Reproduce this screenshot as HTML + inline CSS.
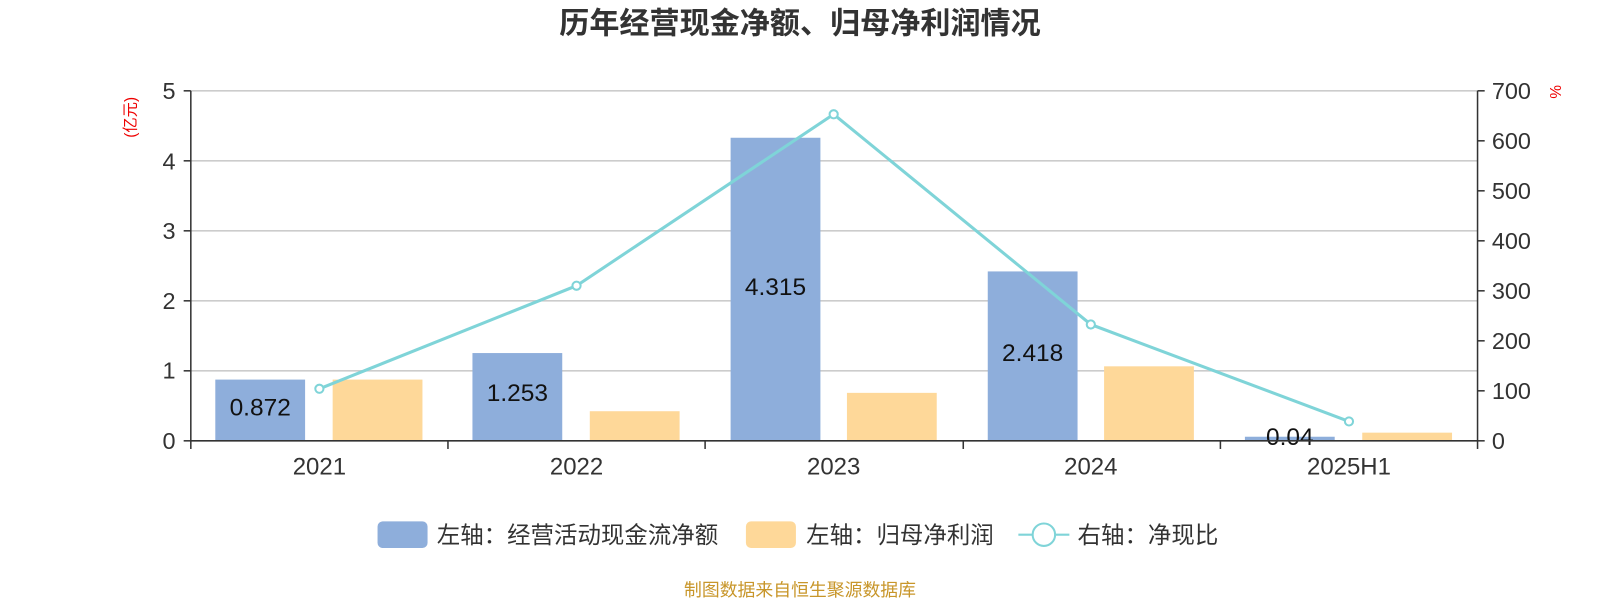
<!DOCTYPE html>
<html><head><meta charset="utf-8"><style>
body{margin:0;background:#fff;}
svg{display:block;font-family:"Liberation Sans","Noto Sans CJK SC",sans-serif;}
</style></head><body>
<svg width="1600" height="600" viewBox="0 0 1568 588" preserveAspectRatio="none">
<text x="784" y="33" text-anchor="middle" font-size="29.5" font-weight="bold" fill="#333">历年经营现金净额、归母净利润情况</text>
<g stroke="#ccc" stroke-width="1.5">
<line x1="187" y1="89" x2="1448" y2="89"/>
<line x1="187" y1="157.6" x2="1448" y2="157.6"/>
<line x1="187" y1="226.2" x2="1448" y2="226.2"/>
<line x1="187" y1="294.8" x2="1448" y2="294.8"/>
<line x1="187" y1="363.4" x2="1448" y2="363.4"/>
</g>
<g fill="#8eaedb">
<rect x="211" y="372" width="88" height="60"/>
<rect x="463" y="346" width="88" height="86"/>
<rect x="716" y="135" width="88" height="297"/>
<rect x="968" y="266" width="88" height="166"/>
<rect x="1220" y="428" width="88" height="4"/>
</g>
<g fill="#fed899">
<rect x="326" y="372" width="88" height="60"/>
<rect x="578" y="403" width="88" height="29"/>
<rect x="830" y="385" width="88" height="47"/>
<rect x="1082" y="359" width="88" height="73"/>
<rect x="1335" y="424" width="88" height="8"/>
</g>
<g font-size="24" fill="#111" text-anchor="middle">
<text x="255" y="407">0.872</text>
<text x="507" y="393">1.253</text>
<text x="760" y="289">4.315</text>
<text x="1012" y="354">2.418</text>
<text x="1264" y="436">0.04</text>
</g>
<g stroke="#333" stroke-width="1.5">
<line x1="187" y1="89" x2="187" y2="432"/>
<line x1="1448" y1="89" x2="1448" y2="432"/>
<line x1="187" y1="432" x2="1448" y2="432"/>
<line x1="180" y1="89" x2="187" y2="89"/><line x1="180" y1="157.6" x2="187" y2="157.6"/><line x1="180" y1="226.2" x2="187" y2="226.2"/><line x1="180" y1="294.8" x2="187" y2="294.8"/><line x1="180" y1="363.4" x2="187" y2="363.4"/><line x1="180" y1="432" x2="187" y2="432"/>
<line x1="1448" y1="89" x2="1455" y2="89"/><line x1="1448" y1="138" x2="1455" y2="138"/><line x1="1448" y1="187" x2="1455" y2="187"/><line x1="1448" y1="236" x2="1455" y2="236"/><line x1="1448" y1="285" x2="1455" y2="285"/><line x1="1448" y1="334" x2="1455" y2="334"/><line x1="1448" y1="383" x2="1455" y2="383"/><line x1="1448" y1="432" x2="1455" y2="432"/>
<line x1="187" y1="432" x2="187" y2="440"/><line x1="439" y1="432" x2="439" y2="440"/><line x1="691" y1="432" x2="691" y2="440"/><line x1="944" y1="432" x2="944" y2="440"/><line x1="1196" y1="432" x2="1196" y2="440"/><line x1="1448" y1="432" x2="1448" y2="440"/>
</g>
<g font-size="23" fill="#333" text-anchor="end">
<text x="172" y="97">5</text><text x="172" y="166">4</text><text x="172" y="234">3</text><text x="172" y="303">2</text><text x="172" y="371">1</text><text x="172" y="440">0</text>
</g>
<g font-size="23" fill="#333" text-anchor="start">
<text x="1462" y="97">700</text><text x="1462" y="146">600</text><text x="1462" y="195">500</text><text x="1462" y="244">400</text><text x="1462" y="293">300</text><text x="1462" y="342">200</text><text x="1462" y="391">100</text><text x="1462" y="440">0</text>
</g>
<g font-size="23.5" fill="#333" text-anchor="middle">
<text x="313" y="465">2021</text><text x="565" y="465">2022</text><text x="817" y="465">2023</text><text x="1069" y="465">2024</text><text x="1322" y="465">2025H1</text>
</g>
<text transform="translate(133,115) rotate(-90)" font-size="15" fill="#e00" text-anchor="middle">(亿元)</text>
<text transform="translate(1530,90) rotate(-90)" font-size="15" fill="#e00" text-anchor="middle">%</text>
<polyline points="313,381 565,280 817,112 1069,318 1322,413" fill="none" stroke="#7fd4d8" stroke-width="3"/>
<g fill="#fff" stroke="#7fd4d8" stroke-width="2">
<circle cx="313" cy="381" r="4"/><circle cx="565" cy="280" r="4"/><circle cx="817" cy="112" r="4"/><circle cx="1069" cy="318" r="4"/><circle cx="1322" cy="413" r="4"/>
</g>
<rect x="370" y="511" width="49" height="26" rx="5" fill="#8eaedb"/>
<text x="428" y="532" font-size="23" fill="#333">左轴：经营活动现金流净额</text>
<rect x="731" y="511" width="49" height="26" rx="5" fill="#fed899"/>
<text x="790" y="532" font-size="23" fill="#333">左轴：归母净利润</text>
<line x1="998" y1="524" x2="1048" y2="524" stroke="#7fd4d8" stroke-width="2"/>
<circle cx="1023" cy="524" r="11" fill="#fff" stroke="#7fd4d8" stroke-width="2"/>
<text x="1056" y="532" font-size="23" fill="#333">右轴：净现比</text>
<text x="784" y="584" font-size="17.5" fill="#c8962a" text-anchor="middle">制图数据来自恒生聚源数据库</text>
</svg>
</body></html>
